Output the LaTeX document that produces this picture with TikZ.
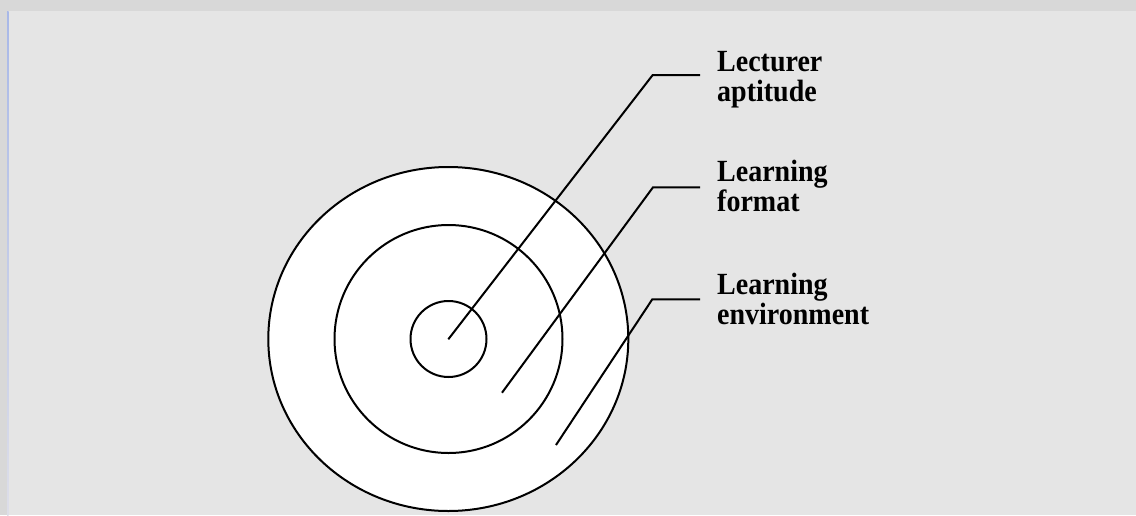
\documentclass[tikz,border=0pt]{standalone}
\usepackage{fontspec}
\usepackage{graphicx}
\setmainfont{Liberation Serif}
\definecolor{bgmain}{HTML}{E5E5E5}
\definecolor{bgstrip}{HTML}{D8D8D8}
\definecolor{edgetop}{HTML}{A8B8E8}
\definecolor{edgebot}{HTML}{DDDEE8}
\newcommand{\tallbf}[1]{\scalebox{1}[1.1]{#1}}
\begin{document}
\begin{tikzpicture}[x=1pt,y=-1pt,
  ring/.style={draw=black,line width=2pt,fill=white},
  leader/.style={draw=black,line width=2pt},
  lbl/.style={anchor=base west,inner sep=0pt,font=\fontsize{28}{30}\selectfont\bfseries}]
\useasboundingbox (0,0) rectangle (1136,515);
% background
\fill[bgstrip] (0,0) rectangle (1136,515);
\fill[bgmain] (7,11) rectangle (1136,515);
\shade[top color=edgetop,bottom color=edgebot] (7,11) rectangle (8.5,515);
% rings
\draw[ring] (448.3,339) ellipse [x radius=180,y radius=172];
\draw[ring] (448.5,339) circle [radius=114];
\draw[ring] (448.5,339) circle [radius=38];
% leader anchor points
\coordinate (s1) at (448.3,339.3);
\coordinate (s2) at (502,392.7);
\coordinate (s3) at (556,445);
\coordinate (c1) at (652.7,75);
\coordinate (c2) at (653,187.3);
\coordinate (c3) at (652.3,299.3);
\coordinate (e1) at (700,75);
\coordinate (e2) at (700,187.3);
\coordinate (e3) at (700,299.3);
\draw[leader] (s1) -- (c1) -- (e1);
\draw[leader] (s2) -- (c2) -- (e2);
\draw[leader] (s3) -- (c3) -- (e3);
% labels
\node[lbl] (l1a) at (717,71.7) {\tallbf{Lecturer}};
\node[lbl] (l1b) at (717,101.7) {\tallbf{aptitude}};
\node[lbl] (l2a) at (717,181.7) {\tallbf{Learning}};
\node[lbl] (l2b) at (717,211.3) {\tallbf{format}};
\node[lbl] (l3a) at (717,294.3) {\tallbf{Learning}};
\node[lbl] (l3b) at (717,324.3) {\tallbf{environment}};
\end{tikzpicture}
\end{document}
